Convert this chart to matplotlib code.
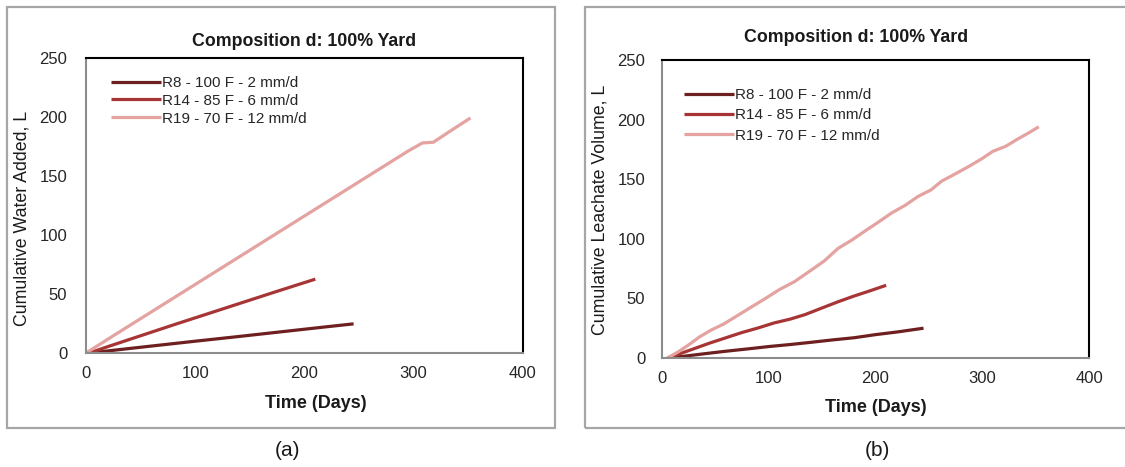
import matplotlib
matplotlib.use("Agg")
import matplotlib.pyplot as plt
from matplotlib.patches import Rectangle

plt.rcParams["font.family"] = ["Liberation Sans", "DejaVu Sans"]

TITLE = "Composition d: 100% Yard"
XLABEL = "Time (Days)"
YLABEL_A = "Cumulative Water Added, L"
YLABEL_B = "Cumulative Leachate Volume, L"
SERIES_NAMES = ["R8 - 100 F - 2 mm/d", "R14 - 85 F - 6 mm/d", "R19 - 70 F - 12 mm/d"]
SERIES_COLORS = ["#6e1f1f", "#a83535", "#e4a3a1"]
X_TICKS = [0, 100, 200, 300, 400]
Y_TICKS = [0, 50, 100, 150, 200, 250]

# (a) cumulative water added
r8_days_a = [3, 30, 60, 100, 140, 180, 220, 245]
r8_water = [0, 2.8, 5.9, 10.0, 14.0, 18.1, 22.2, 24.7]
r14_days_a = [3, 20, 50, 80, 110, 140, 170, 195, 210]
r14_water = [0, 5.4, 14.6, 23.8, 32.8, 41.8, 50.8, 58.2, 62.6]
r19_days_a = [0, 10, 25, 45, 65, 85, 105, 130, 155, 180, 205, 230, 255, 275,
              295, 308, 318, 335, 352]
r19_water = [0, 5.8, 14.6, 26.2, 37.8, 49.4, 61.0, 75.5, 90.0, 104.5, 119.0,
             133.5, 148.0, 159.6, 171.2, 178.0, 178.6, 189.0, 199.2]

# (b) cumulative leachate volume
r8_days_b = [5, 20, 40, 60, 80, 100, 120, 140, 160, 180, 200, 220, 245]
r8_leach = [0, 1.4, 3.6, 5.7, 7.6, 9.6, 11.3, 13.2, 15.2, 17.0, 19.6, 21.8, 25.0]
r14_days_b = [5, 15, 30, 45, 60, 75, 90, 105, 120, 134, 150, 165, 180, 195, 210]
r14_leach = [0, 3.0, 7.8, 12.6, 17.0, 21.4, 25.2, 29.4, 32.6, 36.4, 42.0,
             47.2, 52.0, 56.4, 61.0]
r19_days_b = [5, 15, 25, 35, 46, 58, 70, 82, 97, 110, 124, 138, 152, 165,
              178, 190, 203, 215, 228, 240, 252, 262, 275, 288, 300, 310,
              322, 333, 343, 353]
r19_leach = [0, 5.0, 11.0, 17.6, 23.4, 28.6, 35.2, 41.8, 50.0, 57.4, 64.0,
             72.6, 81.4, 92.0, 99.0, 106.4, 114.2, 121.6, 128.2, 135.6, 141.0,
             148.4, 154.6, 161.0, 167.4, 173.4, 177.6, 183.6, 188.6, 194.0]

panels = [
    dict(rect=[0.0764, 0.2441, 0.3884, 0.6317],
         series=[(r8_days_a, r8_water), (r14_days_a, r14_water), (r19_days_a, r19_water)],
         ylabel=YLABEL_A, ylabel_xy=(22, 218), xlabel_xy=(316, 403),
         title_xy=(304, 41), tag="(a)", tag_xy=(287, 450),
         legend_xy=(111, 76), labelspacing=0.25, ypad=13.5,
         frame=(7, 7, 555, 428)),
    dict(rect=[0.5884, 0.2334, 0.3796, 0.6381],
         series=[(r8_days_b, r8_leach), (r14_days_b, r14_leach), (r19_days_b, r19_leach)],
         ylabel=YLABEL_B, ylabel_xy=(600, 210), xlabel_xy=(876, 408),
         title_xy=(856, 38), tag="(b)", tag_xy=(877, 450),
         legend_xy=(684, 88), labelspacing=0.42, ypad=12,
         frame=(585, 7, 1140, 428)),
]

W, H = 1125, 467
fig = plt.figure(figsize=(W / 100, H / 100), dpi=100)


def fx(px):
    return px / W


def fy(py):
    return 1 - py / H


for p in panels:
    x0, y0, x1, y1 = p["frame"]
    fig.add_artist(Rectangle((fx(x0), fy(y1)), fx(x1 - x0), (y1 - y0) / H,
                             transform=fig.transFigure, fill=False,
                             edgecolor="#a6a6a6", linewidth=1.6, clip_on=False))

    ax = fig.add_axes(p["rect"])
    handles = []
    for (days, vals), name, color in zip(p["series"], SERIES_NAMES, SERIES_COLORS):
        h, = ax.plot(days, vals, color=color, linewidth=2.3, label=name,
                     solid_capstyle="butt")
        handles.append(h)

    ax.set_xlim(0, 400)
    ax.set_ylim(0, 250)
    ax.set_xticks(X_TICKS)
    ax.set_yticks(Y_TICKS)
    ax.tick_params(axis="both", length=0, labelsize=12, labelcolor="#262626")
    ax.tick_params(axis="x", pad=9)
    ax.tick_params(axis="y", pad=p["ypad"])
    for side in ("top", "right"):
        ax.spines[side].set_color("black")
        ax.spines[side].set_linewidth(1.5)
    for side in ("left", "bottom"):
        ax.spines[side].set_color("#8c8c8c")
        ax.spines[side].set_linewidth(1.5)

    leg = ax.legend(handles=handles, loc="upper left",
                    bbox_to_anchor=(fx(p["legend_xy"][0]), fy(p["legend_xy"][1])),
                    bbox_transform=fig.transFigure, frameon=False, fontsize=11,
                    handlelength=3.3, handletextpad=0.05,
                    labelspacing=p["labelspacing"], borderaxespad=0,
                    borderpad=0)
    for t in leg.get_texts():
        t.set_color("#262626")

    fig.text(fx(p["title_xy"][0]), fy(p["title_xy"][1]), TITLE, ha="center",
             va="center", fontsize=12.8, fontweight="bold", color="#1a1a1a")
    fig.text(fx(p["xlabel_xy"][0]), fy(p["xlabel_xy"][1]), XLABEL, ha="center",
             va="center", fontsize=13, fontweight="bold", color="#1a1a1a")
    fig.text(fx(p["ylabel_xy"][0]), fy(p["ylabel_xy"][1]), p["ylabel"],
             ha="center", va="center", rotation=90, fontsize=12.8,
             color="#1a1a1a")
    fig.text(fx(p["tag_xy"][0]), fy(p["tag_xy"][1]), p["tag"], ha="center",
             va="center", fontsize=15, color="#1a1a1a")

fig.savefig("out.png", dpi=100)
